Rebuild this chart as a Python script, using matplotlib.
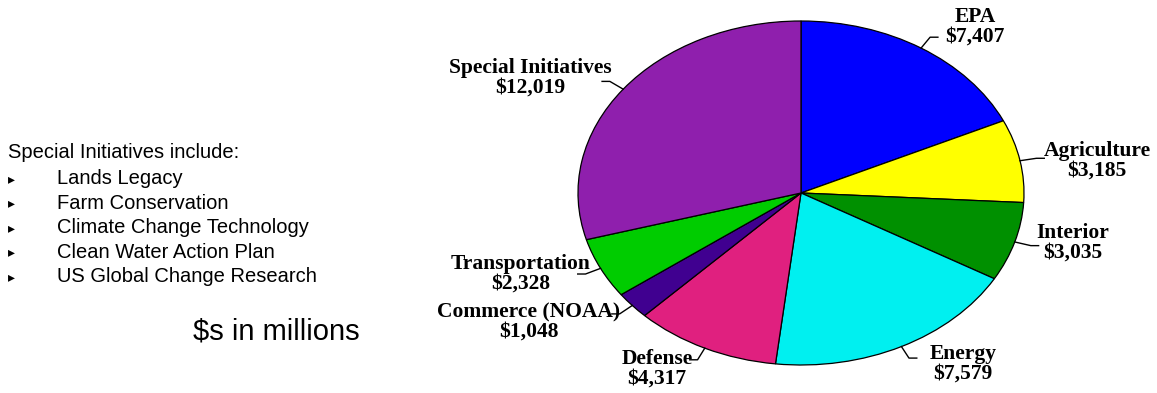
import numpy as np
import matplotlib
matplotlib.use("Agg")
import matplotlib.pyplot as plt

# ---------------- data ---------------- #
agencies = ['EPA', 'Agriculture', 'Interior', 'Energy', 'Defense',
            'Commerce (NOAA)', 'Transportation', 'Special Initiatives']
budget   = [7407, 3185, 3035, 7579, 4317, 1048, 2328, 12019]   # $ millions
colors   = ['#0000FF', '#FFFF00', '#009000', '#00F0F0', '#E0207F',
            '#400090', '#00CC00', '#8F1FAD']

initiatives = ['Lands Legacy', 'Farm Conservation', 'Climate Change Technology',
               'Clean Water Action Plan', 'US Global Change Research']

W, H = 1157, 393
fig = plt.figure(figsize=(W / 100, H / 100), dpi=100)

# ---------------- pie (elliptical) ---------------- #
cx, cy, rx, ry = 801, 193, 223, 172
ax = fig.add_axes([(cx - rx) / W, (H - cy - ry) / H, 2 * rx / W, 2 * ry / H])
wedges, _ = ax.pie(budget, colors=colors, startangle=90, counterclock=False,
                   wedgeprops=dict(edgecolor='black', linewidth=0.9))
ax.set_aspect('auto')
ax.set_xlim(-1, 1)
ax.set_ylim(-1, 1)
ax.axis('off')

# label text centres, in pixels of the figure
label_px = [(975, 27), (1097, 161), (1073, 243), (963, 364),
            (657, 369), (529, 322), (521, 274), (530, 78)]

for w, name, val, (px, py) in zip(wedges, agencies, budget, label_px):
    mid = np.deg2rad((w.theta1 + w.theta2) / 2)
    ex, ey = np.cos(mid), np.sin(mid)
    kx, ky = 1.075 * ex, 1.075 * ey
    hx = kx + 0.035 * np.sign(ex)
    ax.plot([ex, kx, hx], [ey, ky, ky], color='black', lw=1.0, clip_on=False)
    fig.text(px / W, 1 - py / H, f"{name}\n${val:,}", ha='center', va='center',
             family='Liberation Serif', fontweight='bold', fontsize=15.5,
             linespacing=1.0)

# ---------------- left notes ---------------- #
fig.text(8 / W, 1 - 158 / H, 'Special Initiatives include:', family='Liberation Sans',
         fontsize=14.5, va='baseline')
for i, item in enumerate(initiatives):
    yb = 1 - (184 + i * 24.5) / H
    fig.text(8 / W, yb + 1 / H, '\u25b8', family='DejaVu Sans', fontsize=10, va='baseline')
    fig.text(57 / W, yb, item, family='Liberation Sans', fontsize=14.5, va='baseline')

fig.text(193 / W, 1 - 340 / H, '$s in millions', family='Liberation Sans',
         fontsize=21, va='baseline')

fig.savefig('out.png', dpi=100)
